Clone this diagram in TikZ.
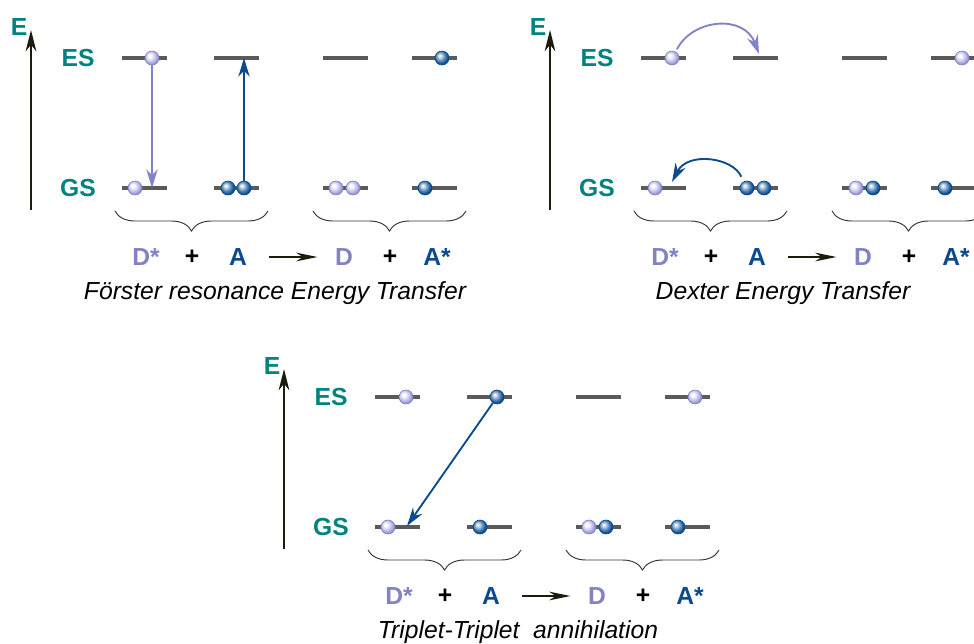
\documentclass[tikz,border=0pt]{standalone}
\usepackage{fontspec}
\setmainfont{Liberation Sans}
\usepackage{tikz}
\usetikzlibrary{arrows.meta,decorations.pathreplacing}
\definecolor{StateTeal}{HTML}{00827F}
\definecolor{DonorLilac}{HTML}{8282C6}
\definecolor{AcceptorBlue}{HTML}{0B4A8C}
\definecolor{LevelGray}{HTML}{5A5A5A}
\definecolor{AxisDark}{HTML}{1C1C0C}
\definecolor{BallLilac}{HTML}{C4C4EE}
\definecolor{BallBlue}{HTML}{4F82B4}
\pgfdeclareradialshading{lilacsphere}{\pgfqpoint{-9bp}{9bp}}{%
	color(0bp)=(white); color(5bp)=(white); color(17bp)=(BallLilac); color(25bp)=(DonorLilac!70!BallLilac); color(50bp)=(DonorLilac)}
\pgfdeclareradialshading{bluesphere}{\pgfqpoint{-9bp}{9bp}}{%
	color(0bp)=(white); color(4bp)=(white!85!BallBlue); color(17bp)=(BallBlue); color(25bp)=(AcceptorBlue); color(50bp)=(AcceptorBlue)}
\tikzset{
	level/.style={draw=LevelGray, line width=2.3pt},
	statelabel/.style={text=StateTeal, inner sep=0pt, font=\bfseries\fontsize{18.5}{21}\selectfont},
	donorlabel/.style={text=DonorLilac, inner sep=0pt, font=\bfseries\fontsize{18.5}{21}\selectfont},
	acceptorlabel/.style={text=AcceptorBlue, inner sep=0pt, font=\bfseries\fontsize{18.5}{21}\selectfont},
	pluslabel/.style={text=black, inner sep=0pt, font=\bfseries\fontsize{18.5}{21}\selectfont},
	captext/.style={text=black, inner sep=0pt, font=\itshape\fontsize{18.5}{21}\selectfont},
	donorball/.style={circle, inner sep=0pt, minimum size=10.5pt, shade, shading=lilacsphere, draw=DonorLilac, line width=0.5pt},
	acceptorball/.style={circle, inner sep=0pt, minimum size=10.5pt, shade, shading=bluesphere, draw=AcceptorBlue, line width=0.5pt},
	axisarrow/.style={-{Stealth[length=16pt,width=8pt,inset=5pt]}, line width=1.5pt, draw=AxisDark},
	donorarrow/.style={-{Stealth[length=14pt,width=8.5pt,inset=4.5pt]}, line width=1.4pt, draw=DonorLilac},
	acceptorarrow/.style={-{Stealth[length=14pt,width=8.5pt,inset=4.5pt]}, line width=1.4pt, draw=AcceptorBlue},
	rxnarrow/.style={-{Stealth[length=16pt,width=6.5pt,inset=5pt]}, line width=1.4pt, draw=AxisDark, shorten <=16pt, shorten >=13pt},
	pairbrace/.style={decorate, decoration={brace, mirror, amplitude=15pt}, draw=black!80, line width=0.7pt},
}
% one energy diagram: axis, levels, braces, equation, caption
\newcommand{\energypanel}[3]{%
	\node[statelabel] (#1E) at (19,27) {E};
	\coordinate (#1Ebase) at (31,210);
	\coordinate (#1Etop) at (31,30);
	\draw[axisarrow] (#1Ebase) -- (#1Etop);
	\node[statelabel] (#1ES) at (78,58) {ES};
	\node[statelabel] (#1GS) at (78,188) {GS};
	\draw[level] (122,58) -- (167,58);
	\draw[level] (214,58) -- (259,58);
	\draw[level] (323,58) -- (368,58);
	\draw[level] (412,58) -- (457,58);
	\draw[level] (122,188) -- (167,188);
	\draw[level] (214,188) -- (259,188);
	\draw[level] (323,188) -- (368,188);
	\draw[level] (412,188) -- (457,188);
	\draw[pairbrace] (115,211) -- (268,211);
	\draw[pairbrace] (313,211) -- (466,211);
	\node[donorlabel] (#1Dstar) at (146,257) {D*};
	\node[pluslabel] (#1plusL) at (192,257) {+};
	\node[acceptorlabel] (#1A) at (238,257) {A};
	\node[donorlabel] (#1D) at (344,257) {D};
	\node[pluslabel] (#1plusR) at (390,257) {+};
	\node[acceptorlabel] (#1Astar) at (437,257) {A*};
	\draw[rxnarrow] (#1A) -- (#1D);
	\node[captext] (#1cap) at (#2,293) {#3};
}

\begin{document}
\begin{tikzpicture}[x=0.75pt,y=-0.75pt]
	\useasboundingbox (0,0) rectangle (974,643);
	\clip (0,0) rectangle (974,643);
	\fill[white] (0,0) rectangle (974,643);

	% Foerster transfer
	\begin{scope}
		\energypanel{f}{275}{Förster resonance Energy Transfer}
		\node[donorball] (fDstarES) at (152,58) {};
		\node[donorball] (fDstarGS) at (135,188) {};
		\node[acceptorball] (fAGSa) at (228,188) {};
		\node[acceptorball] (fAGSb) at (244,188) {};
		\node[donorball] (fDGSa) at (336,188) {};
		\node[donorball] (fDGSb) at (353,188) {};
		\node[acceptorball] (fAstarES) at (442,58) {};
		\node[acceptorball] (fAstarGS) at (425,188) {};
		\coordinate (fDdrop) at (152,188);
		\coordinate (fArise) at (244,58);
		\draw[donorarrow] (fDstarES) -- (fDdrop);
		\draw[acceptorarrow] (fAGSb) -- (fArise);
	\end{scope}

	% Dexter transfer
	\begin{scope}[shift={(519,0)}]
		\energypanel{d}{264}{Dexter Energy Transfer}
		\node[donorball] (dDstarES) at (153,58) {};
		\node[donorball] (dDstarGS) at (136,188) {};
		\node[acceptorball] (dAGSa) at (228,188) {};
		\node[acceptorball] (dAGSb) at (245,188) {};
		\node[donorball] (dDGSa) at (337,188) {};
		\node[acceptorball] (dDGSb) at (354,188) {};
		\node[donorball] (dAstarES) at (443,58) {};
		\node[acceptorball] (dAstarGS) at (426,188) {};
		\coordinate (dAland) at (240,54);
		\coordinate (dDland) at (153,182);
		\draw[donorarrow, shorten <=2pt] (dDstarES.60) .. controls +(17,-33) and +(-15,-40) .. (dAland);
		\draw[acceptorarrow, shorten <=4pt] (dAGSa.120) .. controls +(-10,-24) and +(16,-31) .. (dDland);
	\end{scope}

	% triplet-triplet annihilation
	\begin{scope}[shift={(253,339)}]
		\energypanel{t}{265}{Triplet-Triplet\ \ annihilation}
		\node[donorball] (tDstarES) at (153,58) {};
		\node[acceptorball] (tAES) at (244,58) {};
		\node[donorball] (tDstarGS) at (135,188) {};
		\node[acceptorball] (tAGS) at (227,188) {};
		\node[donorball] (tDGSa) at (336,188) {};
		\node[acceptorball] (tDGSb) at (353,188) {};
		\node[donorball] (tAstarES) at (442,58) {};
		\node[acceptorball] (tAstarGS) at (425,188) {};
		\coordinate (tDland) at (154,187);
		\draw[acceptorarrow] (tAES) -- (tDland);
	\end{scope}
\end{tikzpicture}
\end{document}
